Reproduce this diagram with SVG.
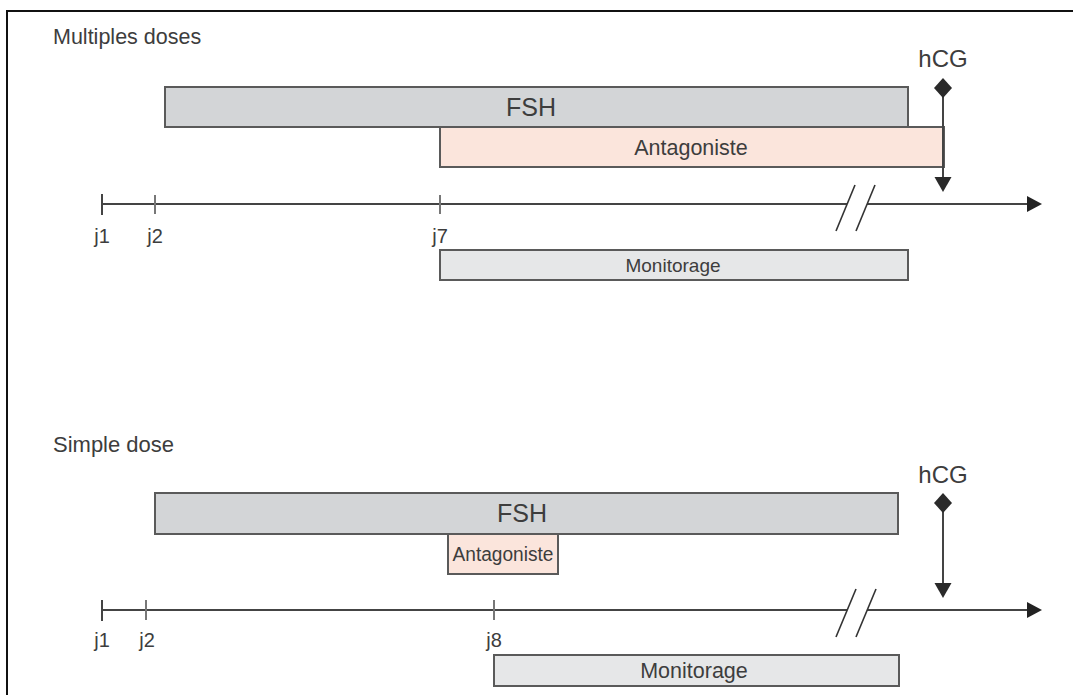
<svg xmlns="http://www.w3.org/2000/svg" width="1073" height="695" viewBox="0 0 1073 695">
<defs>
<style>
.t{font-family:"Liberation Sans",Arial,sans-serif;fill:#3d3d3d}
.title{font-size:21.5px}
.big{font-size:25px;text-anchor:middle}
.mid{font-size:20px;text-anchor:middle}
.lab{font-size:20px;text-anchor:middle}
.fsh{fill:#d3d5d7;stroke:#5a5a5a;stroke-width:2}
.ant{fill:#fbe5dc;stroke:#5a5a5a;stroke-width:2}
.mon{fill:#e6e7e8;stroke:#5a5a5a;stroke-width:2}
.axis{stroke:#444;stroke-width:2;fill:none}
.tick{stroke:#777;stroke-width:2}
.tick1{stroke:#444;stroke-width:2}
.slash{stroke:#333;stroke-width:1.6}
.hcg{stroke:#444;stroke-width:2}
</style>
<marker id="arr" markerUnits="userSpaceOnUse" markerWidth="16" markerHeight="18" refX="0" refY="9" orient="auto">
<path d="M0,1 L15,9 L0,17 z" fill="#222"/>
</marker>
<marker id="down" markerUnits="userSpaceOnUse" markerWidth="18" markerHeight="16" refX="9" refY="0" orient="0">
<path d="M0.5,0 L17.5,0 L9,15 z" fill="#2a2a2a"/>
</marker>
<marker id="dia" markerUnits="userSpaceOnUse" markerWidth="20" markerHeight="22" refX="10" refY="11" orient="0">
<path d="M10,1 L19,11 L10,21 L1,11 z" fill="#2a2a2a"/>
</marker>
</defs>
<rect x="0" y="0" width="1073" height="695" fill="#fff"/>
<rect x="7" y="11" width="1080" height="700" fill="none" stroke="#111" stroke-width="2"/>

<g id="section-multiples">
<text class="t title" x="53" y="44">Multiples doses</text>
<g id="fsh1"><rect class="fsh" x="165" y="87" width="743" height="40"/><text class="t big" x="531" y="116">FSH</text></g>
<g id="ant1"><rect class="ant" x="440" y="127" width="504" height="40"/><text class="t mid" x="691" y="155" style="font-size:21.5px">Antagoniste</text></g>
<g id="mon1"><rect class="mon" x="440" y="250" width="468" height="30"/><text class="t mid" x="673" y="272" style="font-size:19px">Monitorage</text></g>
<g id="hcg1"><text class="t big" x="943" y="67" style="font-size:24px">hCG</text></g>
<g id="labels1">
<text class="t lab" x="102" y="243">j1</text>
<text class="t lab" x="155" y="243">j2</text>
<text class="t lab" x="440" y="243">j7</text>
</g>
</g>

<g id="section-simple">
<text class="t title" x="53" y="452" style="font-size:22px">Simple dose</text>
<g id="fsh2"><rect class="fsh" x="155" y="493" width="743" height="41"/><text class="t big" x="522" y="522">FSH</text></g>
<g id="ant2"><rect class="ant" x="448" y="534" width="110" height="40"/><text class="t mid" x="503" y="561" textLength="101" lengthAdjust="spacingAndGlyphs">Antagoniste</text></g>
<g id="mon2"><rect class="mon" x="494" y="655" width="405" height="31"/><text class="t mid" x="694" y="678" style="font-size:21.5px">Monitorage</text></g>
<g id="hcg2"><text class="t big" x="943" y="483" style="font-size:24px">hCG</text></g>
<g id="labels2">
<text class="t lab" x="102" y="647">j1</text>
<text class="t lab" x="147" y="647">j2</text>
<text class="t lab" x="494" y="647">j8</text>
</g>
</g>

<g id="connectors">
<line class="axis" x1="102" y1="204" x2="847" y2="204"/>
<line class="axis" x1="867" y1="204" x2="1027" y2="204" marker-end="url(#arr)"/>
<line class="tick1" x1="102" y1="194" x2="102" y2="215"/>
<line class="tick" x1="155" y1="195" x2="155" y2="214"/>
<line class="tick" x1="440" y1="195" x2="440" y2="214"/>
<line class="slash" x1="836" y1="231" x2="855" y2="185"/>
<line class="slash" x1="856" y1="231" x2="875" y2="185"/>
<line class="hcg" x1="943" y1="88" x2="943" y2="177" marker-start="url(#dia)" marker-end="url(#down)"/>
<line class="axis" x1="102" y1="610" x2="847" y2="610"/>
<line class="axis" x1="867" y1="610" x2="1027" y2="610" marker-end="url(#arr)"/>
<line class="tick1" x1="102" y1="600" x2="102" y2="621"/>
<line class="tick" x1="146" y1="600" x2="146" y2="620"/>
<line class="tick" x1="494" y1="600" x2="494" y2="620"/>
<line class="slash" x1="836" y1="637" x2="856" y2="589"/>
<line class="slash" x1="856" y1="637" x2="876" y2="589"/>
<line class="hcg" x1="943" y1="503" x2="943" y2="583" marker-start="url(#dia)" marker-end="url(#down)"/>
</g>
</svg>
